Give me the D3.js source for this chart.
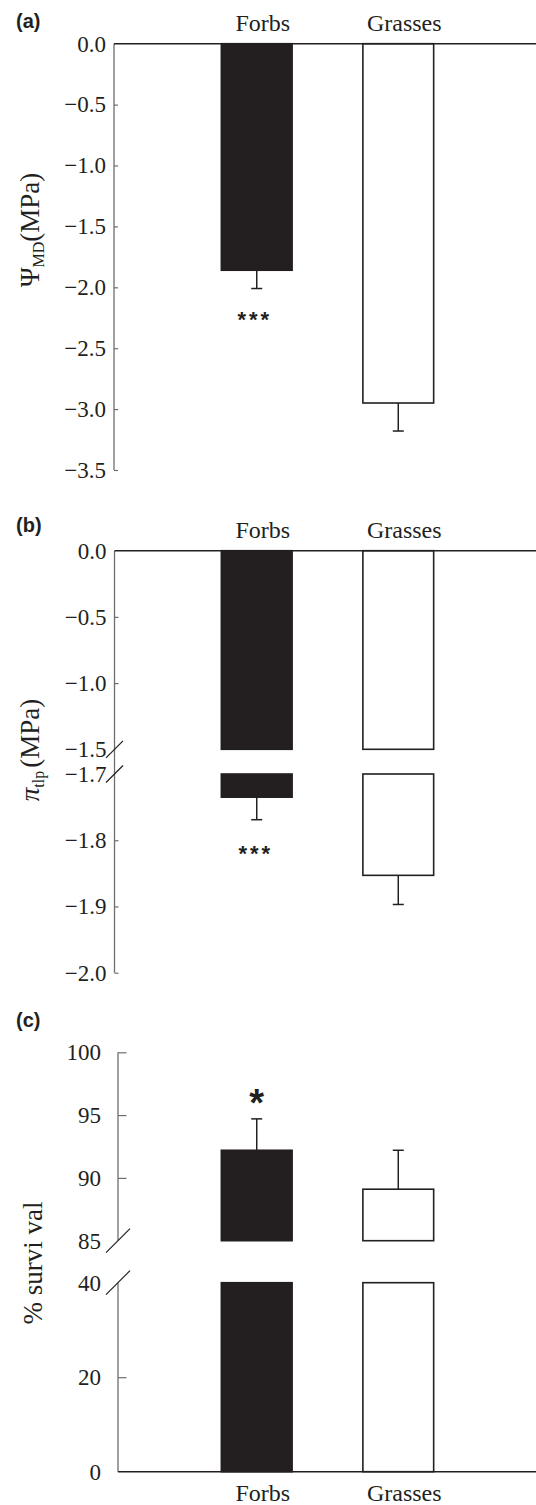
<!DOCTYPE html>
<html>
<head>
<meta charset="utf-8">
<script src="https://cdn.jsdelivr.net/npm/d3@7"></script>
<style>
  body { margin: 0; background: #fff; }
</style>
</head>
<body>
<div id="app"></div>
<script>
const categories = ['Forbs', 'Grasses'];

// (a) midday water potential (MPa)
const psiMD = [-1.86, -2.95];
const psiMDErr = [0.15, 0.23];

// (b) turgor loss point (MPa)
const piTlp = [-1.735, -1.853];
const piTlpErr = [0.034, 0.044];

// (c) survival (%)
const survival = [92.2, 89.1];
const survivalErr = [2.5, 3.1];

const ticksA = [0, -0.5, -1, -1.5, -2, -2.5, -3, -3.5];
const ticksBTop = [0, -0.5, -1, -1.5];
const ticksBBottom = [-1.7, -1.8, -1.9, -2];
const ticksCTop = [85, 90, 95, 100];
const ticksCBottom = [0, 20, 40];

const ink = '#231f20';
const grey = '#6d6e71';
const serif = '"Liberation Serif", "Times New Roman", serif';
const sans = '"Liberation Sans", Arial, sans-serif';

const svg = d3.select('#app').append('svg').attr('width', 536).attr('height', 1505);

const x = d3.scaleBand().domain(categories).range([150, 505]).paddingInner(0.5).paddingOuter(0.504);
const cx = (c) => x(c) + x.bandwidth() / 2;

function leftAxis(scale, ticks, fmt, axX, size, pad, hide) {
  const g = svg.append('g').attr('transform', `translate(${axX},0)`);
  g.call(d3.axisLeft(scale).tickValues(ticks).tickFormat(fmt).tickSize(-size).tickPadding(pad));
  g.select('.domain').remove();
  g.selectAll('.tick line').attr('stroke', grey).attr('stroke-width', 1.2)
    .attr('display', (d) => (hide.includes(d) ? 'none' : null));
  g.selectAll('.tick text')
    .style('font-family', serif).style('font-size', '23px').style('fill', ink);
  return g;
}

function line(x1, y1, x2, y2, color, w) {
  svg.append('line').attr('x1', x1).attr('y1', y1).attr('x2', x2).attr('y2', y2)
    .attr('stroke', color).attr('stroke-width', w);
}

function slash(axX, y, r) {
  line(axX - r, y + r, axX + r, y - r, ink, 1.2);
}

function bars(y0, y1) {
  svg.append('g').selectAll('rect').data(categories).join('rect')
    .attr('x', (d) => x(d)).attr('width', x.bandwidth())
    .attr('y', (d, i) => Math.min(y0(d, i), y1(d, i)))
    .attr('height', (d, i) => Math.abs(y1(d, i) - y0(d, i)))
    .attr('fill', (d, i) => (i === 0 ? ink : '#fff'))
    .attr('stroke', ink).attr('stroke-width', 1.6);
}

function errorBars(yFrom, yTo) {
  const g = svg.append('g').attr('stroke', ink).attr('stroke-width', 1.5);
  categories.forEach((c, i) => {
    g.append('line').attr('x1', cx(c)).attr('x2', cx(c)).attr('y1', yFrom(i)).attr('y2', yTo(i));
    g.append('line').attr('x1', cx(c) - 5.5).attr('x2', cx(c) + 5.5).attr('y1', yTo(i)).attr('y2', yTo(i));
  });
}

function catLabels(y) {
  svg.append('g').selectAll('text').data(categories).join('text')
    .attr('x', (d) => cx(d) + 6).attr('y', y)
    .attr('text-anchor', 'middle').attr('font-family', serif).attr('font-size', 24)
    .attr('fill', ink).text((d) => d);
}

function panelLabel(txt, y) {
  svg.append('text').attr('x', 16).attr('y', y).attr('font-family', sans)
    .attr('font-weight', 'bold').attr('font-size', 20).attr('fill', ink).text(txt);
}

function stars(txt, cxv, cy, size) {
  svg.append('text').attr('x', cxv).attr('y', cy + size * 0.56)
    .attr('text-anchor', 'middle').attr('font-family', sans).attr('font-weight', 'bold')
    .attr('font-size', size).attr('letter-spacing', size > 30 ? 0 : 3).attr('fill', ink).text(txt);
}

const fmt1 = d3.format('.1f');

// ---------- panel (a)
const axA = 114;
const yA = d3.scaleLinear().domain([-3.5, 0]).range([470, 43.7]);

panelLabel('(a)', 28);
catLabels(31);
leftAxis(yA, ticksA, fmt1, axA, 4, 8, [0]);
bars(() => yA(0), (d, i) => yA(psiMD[i]));
errorBars((i) => yA(psiMD[i]), (i) => yA(psiMD[i] - psiMDErr[i]));
line(axA, yA(0), axA, yA(-3.5), grey, 1.3);
line(axA, yA(0), 536, yA(0), ink, 1.5);
stars('***', cx(categories[0]) - 2, yA(psiMD[0] - psiMDErr[0]) + 26, 22);

svg.append('text').attr('transform', 'translate(39,230) rotate(-90)')
  .attr('text-anchor', 'middle').attr('font-family', serif).attr('font-size', 27).attr('fill', ink)
  .call((t) => {
    t.append('tspan').text('Ψ');
    t.append('tspan').attr('font-size', 16).attr('dy', 5).text('MD');
    t.append('tspan').attr('dy', -5).text('(MPa)');
  });

// ---------- panel (b)
const axB = 114.5;
const yBTop = d3.scaleLinear().domain([-1.5, 0]).range([749.3, 550.7]);
const yBBottom = d3.scaleLinear().domain([-2, -1.7]).range([972.7, 774]);

panelLabel('(b)', 532);
catLabels(538);
leftAxis(yBTop, ticksBTop, fmt1, axB, 4, 8, [0, -1.5]);
leftAxis(yBBottom, ticksBBottom, fmt1, axB, 4, 8, [-1.7]);
bars(() => yBTop(0), () => yBTop(-1.5));
bars(() => yBBottom(-1.7), (d, i) => yBBottom(piTlp[i]));
errorBars((i) => yBBottom(piTlp[i]), (i) => yBBottom(piTlp[i] - piTlpErr[i]));
line(axB, yBTop(0), axB, yBBottom(-2), grey, 1.3);
line(axB, yBTop(0), 536, yBTop(0), ink, 1.5);
slash(axB, yBTop(-1.5), 8.5);
slash(axB, yBBottom(-1.7), 8.5);
stars('***', cx(categories[0]) - 1, yBBottom(piTlp[0] - piTlpErr[0]) + 29, 22);

svg.append('text').attr('transform', 'translate(39,750) rotate(-90)')
  .attr('text-anchor', 'middle').attr('font-family', serif).attr('font-size', 27).attr('fill', ink)
  .call((t) => {
    t.append('tspan').attr('font-style', 'italic').text('π');
    t.append('tspan').attr('font-size', 16).attr('dy', 5).text('tlp');
    t.append('tspan').attr('dy', -5).attr('dx', 3).text('(MPa)');
  });

// ---------- panel (c)
const axC = 118;
const yCTop = d3.scaleLinear().domain([85, 100]).range([1240.7, 1052.3]);
const yCBottom = d3.scaleLinear().domain([0, 40]).range([1471.7, 1282.7]);

panelLabel('(c)', 1027);
leftAxis(yCTop, ticksCTop, d3.format('d'), axC, 8.5, 17, [85]);
leftAxis(yCBottom, ticksCBottom, d3.format('d'), axC, 8.5, 17, [0, 40]);
bars(() => yCBottom(0), () => yCBottom(40));
bars(() => yCTop(85), (d, i) => yCTop(survival[i]));
errorBars((i) => yCTop(survival[i]), (i) => yCTop(survival[i] + survivalErr[i]));
line(axC, yCTop(100), axC, yCTop(85), grey, 1.3);
line(axC, yCBottom(40), axC, yCBottom(0), grey, 1.3);
line(axC, yCBottom(0), 536, yCBottom(0), ink, 1.5);
slash(axC, yCTop(85), 12);
slash(axC, yCBottom(40), 12);
stars('*', cx(categories[0]), yCTop(survival[0] + survivalErr[0]) - 24, 38);
catLabels(1501);

svg.append('text').attr('transform', 'translate(42,1263) rotate(-90)')
  .attr('text-anchor', 'middle').attr('font-family', serif).attr('font-size', 27).attr('fill', ink)
  .text('% survi val');
</script>
</body>
</html>
